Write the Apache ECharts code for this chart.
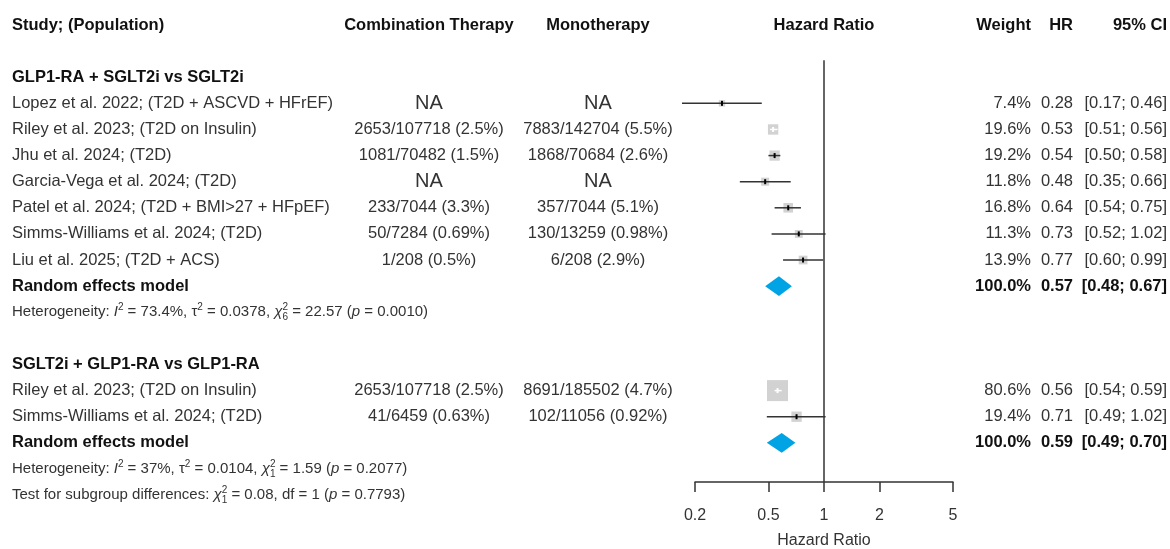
<!DOCTYPE html>
<html>
<head>
<meta charset="utf-8">
<script src="https://cdn.jsdelivr.net/npm/echarts@6/dist/echarts.min.js"></script>
<style>
html,body{margin:0;padding:0;background:#fff}
#container{width:1170px;height:549px}
</style>
</head>
<body>
<div id="container"></div>
<script>
// ---- data ----
var studies1 = ['Lopez et al. 2022; (T2D + ASCVD + HFrEF)', 'Riley et al. 2023; (T2D on Insulin)', 'Jhu et al. 2024; (T2D)',
    'Garcia-Vega et al. 2024; (T2D)', 'Patel et al. 2024; (T2D + BMI>27 + HFpEF)', 'Simms-Williams et al. 2024; (T2D)', 'Liu et al. 2025; (T2D + ACS)'];
var combo1 = ['NA', '2653/107718 (2.5%)', '1081/70482 (1.5%)', 'NA', '233/7044 (3.3%)', '50/7284 (0.69%)', '1/208 (0.5%)'];
var mono1 = ['NA', '7883/142704 (5.5%)', '1868/70684 (2.6%)', 'NA', '357/7044 (5.1%)', '130/13259 (0.98%)', '6/208 (2.9%)'];
var weight1 = [7.4, 19.6, 19.2, 11.8, 16.8, 11.3, 13.9];
var hr1 = [0.28, 0.53, 0.54, 0.48, 0.64, 0.73, 0.77];
var lo1 = [0.17, 0.51, 0.50, 0.35, 0.54, 0.52, 0.60];
var hi1 = [0.46, 0.56, 0.58, 0.66, 0.75, 1.02, 0.99];
var pooled1 = [0.57, 0.48, 0.67];

var studies2 = ['Riley et al. 2023; (T2D on Insulin)', 'Simms-Williams et al. 2024; (T2D)'];
var combo2 = ['2653/107718 (2.5%)', '41/6459 (0.63%)'];
var mono2 = ['8691/185502 (4.7%)', '102/11056 (0.92%)'];
var weight2 = [80.6, 19.4];
var hr2 = [0.56, 0.71];
var lo2 = [0.54, 0.49];
var hi2 = [0.59, 1.02];
var pooled2 = [0.59, 0.49, 0.70];

var xTicks = [0.2, 0.5, 1, 2, 5];

// row numbers (top = 0)
var rows1 = [3, 4, 5, 6, 7, 8, 9];
var rows2 = [14, 15];

var FONT = '"Liberation Sans", Arial, Helvetica, sans-serif';
var TXT = '#333';

// ---- build the forest marks ----
var studyPts = [];
studies1.forEach(function (s, i) { studyPts.push([hr1[i], lo1[i], hi1[i], rows1[i], weight1[i]]); });
studies2.forEach(function (s, i) { studyPts.push([hr2[i], lo2[i], hi2[i], rows2[i], weight2[i]]); });
var diamonds = [pooled1.concat([10]), pooled2.concat([16])];

// ---- build text table ----
var texts = [];
function T(row, x, text, align, o) { texts.push({row: row, x: x, text: text, align: align, o: o || {}}); }
var X_STUDY = 12, X_COMBO = 429, X_MONO = 598, X_HR_HEAD = 824, X_W = 1031, X_HR = 1073, X_CI = 1167;
var head = {bold: true, color: '#111'};
T(0, X_STUDY, 'Study; (Population)', 'left', head);
T(0, X_COMBO, 'Combination Therapy', 'center', head);
T(0, X_MONO, 'Monotherapy', 'center', head);
T(0, X_HR_HEAD, 'Hazard Ratio', 'center', head);
T(0, X_W, 'Weight', 'right', head);
T(0, X_HR, 'HR', 'right', head);
T(0, X_CI, '95% CI', 'right', head);

function addGroup(title, titleRow, studies, combo, mono, w, hr, lo, hi, rows, pooled, pooledRow) {
    T(titleRow, X_STUDY, title, 'left', head);
    studies.forEach(function (s, i) {
        T(rows[i], X_STUDY, s, 'left');
        var na = {size: 20};
        T(rows[i], X_COMBO, combo[i], 'center', combo[i] === 'NA' ? na : null);
        T(rows[i], X_MONO, mono[i], 'center', mono[i] === 'NA' ? na : null);
        T(rows[i], X_W, w[i].toFixed(1) + '%', 'right');
        T(rows[i], X_HR, hr[i].toFixed(2), 'right');
        T(rows[i], X_CI, '[' + lo[i].toFixed(2) + '; ' + hi[i].toFixed(2) + ']', 'right');
    });
    T(pooledRow, X_STUDY, 'Random effects model', 'left', head);
    T(pooledRow, X_W, '100.0%', 'right', head);
    T(pooledRow, X_HR, pooled[0].toFixed(2), 'right', head);
    T(pooledRow, X_CI, '[' + pooled[1].toFixed(2) + '; ' + pooled[2].toFixed(2) + ']', 'right', head);
}
addGroup('GLP1-RA + SGLT2i vs SGLT2i', 2, studies1, combo1, mono1, weight1, hr1, lo1, hi1, rows1, pooled1, 10);
addGroup('SGLT2i + GLP1-RA vs GLP1-RA', 13, studies2, combo2, mono2, weight2, hr2, lo2, hi2, rows2, pooled2, 16);

var small = {size: 15};
T(11, X_STUDY, 'Heterogeneity: {it|I}{sp|2} = 73.4%, \u03c4{sp|2} = 0.0378, {it|\u03c7}{sb|6}{sp|2} = 22.57 ({it|p} = 0.0010)', 'left', small);
T(17, X_STUDY, 'Heterogeneity: {it|I}{sp|2} = 37%, \u03c4{sp|2} = 0.0104, {it|\u03c7}{sb|1}{sp|2} = 1.59 ({it|p} = 0.2077)', 'left', small);
T(18, X_STUDY, 'Test for subgroup differences: {it|\u03c7}{sb|1}{sp|2} = 0.08, df = 1 ({it|p} = 0.7793)', 'left', small);

var rich = {
    it: {fontStyle: 'italic', fontSize: 15, fontFamily: FONT, color: TXT},
    sp: {fontSize: 10, fontFamily: FONT, color: TXT, verticalAlign: 'top', lineHeight: 20},
    sb: {fontSize: 10, fontFamily: FONT, color: TXT, verticalAlign: 'bottom', lineHeight: 20, width: 0}
};

var dom = document.querySelector('#container');
var myChart = echarts.init(dom);

var renderStudy = function (params, api) {
    var hr = api.value(0), lo = api.value(1), hi = api.value(2), row = api.value(3), w = api.value(4);
    var c = api.coord([hr, row]), a = api.coord([lo, row]), b = api.coord([hi, row]);
    var s = 2.34 * Math.sqrt(w);
    var inside = (b[0] - a[0]) < s;
    return {
        type: 'group',
        children: [
            {type: 'rect', shape: {x: c[0] - s / 2, y: c[1] - s / 2, width: s, height: s}, style: {fill: '#d2d2d2'}},
            {type: 'line', shape: {x1: a[0], y1: a[1], x2: b[0], y2: b[1]}, style: {stroke: inside ? '#fff' : '#333', lineWidth: 1.5}},
            {type: 'line', shape: {x1: c[0], y1: c[1] - 2.5, x2: c[0], y2: c[1] + 2.5}, style: {stroke: inside ? '#fff' : '#000', lineWidth: 2}}
        ]
    };
};

var renderDiamond = function (params, api) {
    var hr = api.value(0), lo = api.value(1), hi = api.value(2), row = api.value(3);
    var a = api.coord([lo, row]), b = api.coord([hi, row]);
    var t = api.coord([hr, row - 0.38]), d = api.coord([hr, row + 0.38]);
    return {type: 'polygon', shape: {points: [a, t, b, d]}, style: {fill: '#00a3e3'}};
};

var renderRef = function (params, api) {
    var a = api.coord([api.value(0), api.value(1)]), b = api.coord([api.value(0), api.value(2)]);
    return {type: 'line', shape: {x1: a[0], y1: a[1], x2: b[0], y2: b[1]}, style: {stroke: '#333', lineWidth: 1.5}};
};

var renderText = function (params, api) {
    var t = texts[params.dataIndex];
    var y = api.coord([1, t.row])[1];
    return {
        type: 'text', x: t.x, y: y,
        style: {
            text: t.text, align: t.align, verticalAlign: 'middle',
            fontFamily: FONT, fontSize: t.o.size || 16.5, fontWeight: t.o.bold ? 'bold' : 'normal',
            fill: t.o.color || TXT, rich: rich
        }
    };
};

var option = {
    animation: false,
    grid: {left: 695, right: 217, top: 25, height: 457, outerBoundsMode: 'none', containLabel: false},
    xAxis: {
        type: 'log', min: 0.2, max: 5, position: 'bottom',
        axisLine: {onZero: false, lineStyle: {color: '#333', width: 1.5}},
        axisTick: {show: true, length: 10, customValues: xTicks, lineStyle: {color: '#333', width: 1.5}},
        axisLabel: {customValues: xTicks, margin: 26, fontSize: 16, fontFamily: FONT, color: TXT,
            formatter: function (v) { return String(Math.round(v * 10) / 10); }},
        splitLine: {show: false},
        minorTick: {show: false},
        name: 'Hazard Ratio', nameLocation: 'middle', nameGap: 51,
        nameTextStyle: {fontSize: 16, fontFamily: FONT, color: TXT}
    },
    yAxis: {type: 'value', min: 0, max: 17.5, inverse: true, show: false},
    series: [
        {type: 'custom', renderItem: renderRef, data: [[1, 1.35, 17.5]], clip: false, silent: true},
        {type: 'custom', renderItem: renderStudy, data: studyPts, clip: false, silent: true},
        {type: 'custom', renderItem: renderDiamond, data: diamonds, clip: false, silent: true},
        {type: 'custom', renderItem: renderText, data: texts.map(function (t) { return [1, t.row]; }), clip: false, silent: true}
    ]
};
myChart.setOption(option);
</script>
</body>
</html>
